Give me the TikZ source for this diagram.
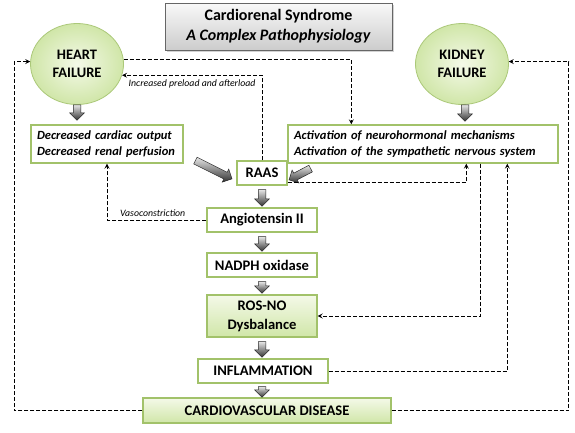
\documentclass[tikz,border=0pt]{standalone}
\usepackage{fontspec}
\setmainfont{Carlito}
\usetikzlibrary{calc,arrows.meta,shapes.geometric,shapes.arrows,shadows}
\definecolor{boxgreen}{RGB}{162,194,106}
\definecolor{palegreen}{RGB}{244,249,232}
\definecolor{leafgreen}{RGB}{208,230,168}
\newcommand\bigarr[2]{\path let \p1=($(#2)-(#1)$), \n1={atan2(\y1,\x1)}, \n2={veclen(\x1,\y1)} in ($(#1)!0.5!(#2)$) node[bigarrow, minimum height=\n2, rotate=\n1] {};}

\begin{document}
\begin{tikzpicture}[x=1pt,y=-1pt,
  box/.style={draw=boxgreen, line width=1.4pt, fill=white, inner sep=0pt, font=\fontsize{14.6}{17}\selectfont\bfseries},
  greenbox/.style={box, top color=palegreen, bottom color=leafgreen},
  organ/.style={ellipse, draw=boxgreen!90, line width=0.8pt, inner color=palegreen, outer color=leafgreen, minimum width=93pt, minimum height=81pt, inner sep=0pt, align=center, font=\fontsize{14.5}{18}\selectfont\bfseries},
  textbox/.style={box, align=left, font=\fontsize{12.5}{16}\selectfont\bfseries\itshape},
  dasharrow/.style={line width=1pt, dash pattern=on 4pt off 2pt, -{Stealth[length=5pt,width=5pt,inset=2pt]}},
  bigarrow/.style={single arrow, draw=black!85, line width=0.5pt, top color=gray!20, bottom color=black!80, minimum width=14pt, single arrow head extend=3.5pt, inner xsep=0pt, inner ysep=3.5pt},
  small/.style={font=\fontsize{9.8}{11}\selectfont\itshape}]
\useasboundingbox (0,0) rectangle (575,432);

% title
\node[draw=black!60, line width=0.8pt, top color=gray!5, bottom color=gray!40, drop shadow={shadow xshift=2pt, shadow yshift=-2pt, opacity=0.35}, minimum width=227pt, minimum height=47pt, align=center, font=\fontsize{16}{20}\selectfont\bfseries] (title) at (278.5,26.5) {Cardiorenal Syndrome\\ \textit{A Complex Pathophysiology}};

% organs
\node[organ] (heart) at (77,64) {HEART\\FAILURE};
\node[organ] (kidney) at (462,64) {KIDNEY\\FAILURE};

% boxes
\node[textbox, minimum width=152pt, minimum height=38pt, text width=140pt] (dec) at (107,144) {Decreased cardiac output\\Decreased renal perfusion};
\node[textbox, minimum width=270pt, minimum height=38pt, text width=258pt] (act) at (423,144) {Activation of neurohormonal mechanisms\\Activation of the sympathetic nervous system};
\node[box, minimum width=50pt, minimum height=24pt] (raas) at (262,173) {RAAS};
\node[box, minimum width=110pt, minimum height=24pt] (ang) at (262,220) {Angiotensin II};
\node[box, minimum width=110pt, minimum height=24pt] (nadph) at (262,265) {NADPH oxidase};
\node[greenbox, minimum width=110pt, minimum height=42pt, align=center, font=\fontsize{14.6}{19}\selectfont\bfseries] (ros) at (262,316) {ROS-NO\\Dysbalance};
\node[box, minimum width=130pt, minimum height=24pt] (infl) at (263,371) {INFLAMMATION};
\node[greenbox, minimum width=248pt, minimum height=25pt] (cvd) at (267,410.5) {CARDIOVASCULAR DISEASE};

% block arrows
\coordinate (h1) at ($(heart.south)+(0,-2)$);
\coordinate (h2) at ($(heart.south |- dec.north)+(0,-6)$);
\coordinate (k1) at ($(kidney.south)+(3,-2)$);
\coordinate (k2) at ($(kidney.south |- act.north)+(3,-5)$);
\coordinate (d1) at ($(dec.south east)+(10,-4)$);
\coordinate (d2) at ($(raas.west)+(-6,5)$);
\coordinate (a1) at ($(act.south west)+(25,4)$);
\coordinate (a2) at ($(raas.east)+(3,6)$);
\coordinate (r1) at ($(raas.south)+(0,2)$);
\coordinate (r2) at ($(ang.north)+(0,-3)$);
\coordinate (g1) at ($(ang.south)+(0,2)$);
\coordinate (g2) at ($(nadph.north)+(0,-3)$);
\coordinate (n1) at ($(nadph.south)+(0,2)$);
\coordinate (n2) at ($(ros.north)+(0,-3)$);
\coordinate (o1) at ($(ros.south)+(0,2)$);
\coordinate (o2) at ($(ros.south |- infl.north)+(0,-3)$);
\coordinate (i1) at ($(infl.south)+(-1,1)$);
\coordinate (i2) at ($(infl.south |- cvd.north)+(-1,-2)$);
\bigarr{h1}{h2}
\bigarr{k1}{k2}
\bigarr{d1}{d2}
\bigarr{a1}{a2}
\bigarr{r1}{r2}
\bigarr{g1}{g2}
\bigarr{n1}{n2}
\bigarr{o1}{o2}
\bigarr{i1}{i2}

% dashed feedback loops
\coordinate (actin) at ($(act.north west)+(64,0)$);
\draw[dasharrow] (heart.5) -| (actin);
\draw[dasharrow] (raas.north) |- (heart.-14) node[small, pos=0.75, below=1pt] {Increased preload and afterload};
\draw[dasharrow] (ang.west) -| (dec.south) node[small, pos=0.27, above=0pt] {Vasoconstriction};
\coordinate (raasout) at ($(raas.south east)+(0,-3)$);
\coordinate (act1) at ($(act.south west)+(179,0)$);
\coordinate (act2) at ($(act.south west)+(193,0)$);
\coordinate (act3) at ($(act.south west)+(220,0)$);
\draw[dasharrow] (raasout) -| (act1);
\draw[dasharrow] (act2) |- (ros.east);
\draw[dasharrow] (infl.east) -| (act3);
\draw[dasharrow] (cvd.west) -- ++(-128,0) |- (heart.177);
\draw[dasharrow] (cvd.east) -- ++(177,0) |- (kidney.3);
\end{tikzpicture}
\end{document}
